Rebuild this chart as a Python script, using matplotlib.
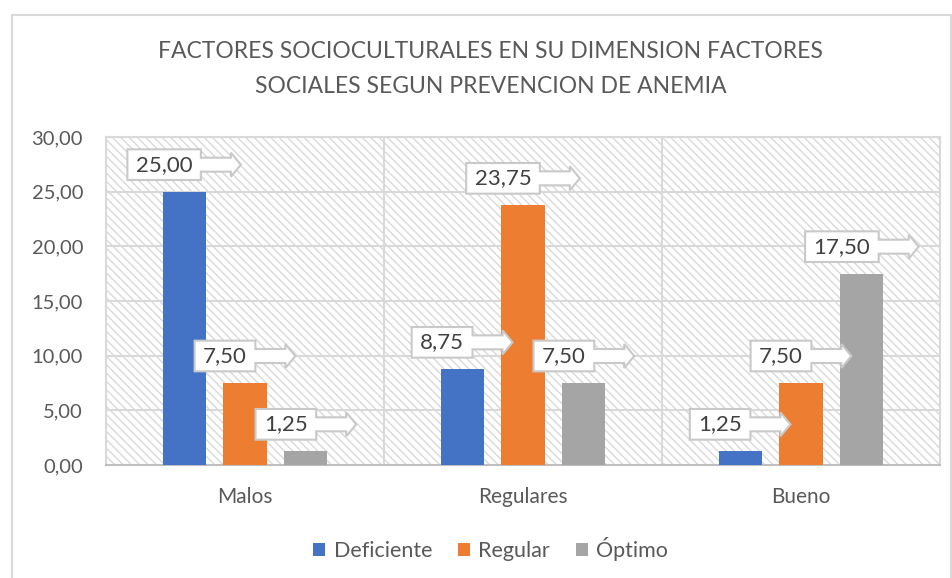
import matplotlib
matplotlib.use("Agg")
import matplotlib.pyplot as plt
import numpy as np
from matplotlib.path import Path
from matplotlib.patches import Patch, Rectangle

categories = ["Malos", "Regulares", "Bueno"]
series_names = ["Deficiente", "Regular", "Óptimo"]
deficiente = [25.00, 8.75, 1.25]
regular = [7.50, 23.75, 7.50]
optimo = [1.25, 7.50, 17.50]
yticks = [0, 5, 10, 15, 20, 25, 30]
colors = ["#4472C4", "#ED7D31", "#A5A5A5"]
title = "FACTORES SOCIOCULTURALES EN SU DIMENSION FACTORES\nSOCIALES SEGUN PREVENCION DE ANEMIA"

plt.rcParams['font.family'] = ['Lato', 'DejaVu Sans']
plt.rcParams['hatch.color'] = '#d9d9d9'
plt.rcParams['hatch.linewidth'] = 1.0

fig = plt.figure(figsize=(9.53, 5.78), dpi=100)
fig.patch.set_facecolor('white')
ax = fig.add_axes([106/953, 1-465/578, 834/953, 328/578])

ax.patch.set_facecolor('white')
ax.patch.set_hatch('\\\\\\\\')
ax.patch.set_edgecolor('#d9d9d9')

def fmt(v):
    return f"{v:.2f}".replace('.', ',')

def callout(x0, y0, width, height, mutation_size):
    ms = mutation_size
    px, py = 0.38 * ms, 0.24 * ms
    l, r = x0 - px, x0 + width + px
    b, t = y0 - py, y0 + height + py
    cy = (b + t) / 2
    sh, hh = 0.315 * ms, 0.54 * ms
    sl, hl = 1.35 * ms, 0.45 * ms
    verts = [(l, b), (r, b), (r, cy - sh), (r + sl, cy - sh), (r + sl, cy - hh),
             (r + sl + hl, cy), (r + sl, cy + hh), (r + sl, cy + sh), (r, cy + sh),
             (r, t), (l, t), (l, b)]
    codes = [Path.MOVETO] + [Path.LINETO] * 10 + [Path.CLOSEPOLY]
    return Path(verts, codes)

x = np.arange(len(categories))
offset = 0.219
width = 0.155
all_series = [deficiente, regular, optimo]
for i, (vals, col) in enumerate(zip(all_series, colors)):
    pos = x + (i - 1) * offset
    ax.bar(pos, vals, width=width, color=col, zorder=3)
    for xp, v in zip(pos, vals):
        ax.annotate(fmt(v), xy=(xp, v), xytext=(-20 * 0.72, 27 * 0.72),
                    textcoords='offset points', ha='center', va='center',
                    fontsize=16, color='#404040', zorder=5, annotation_clip=False,
                    bbox=dict(boxstyle=callout, fc='white', ec='#c9c9c9', lw=1.5))

ax.set_xlim(-0.5, 2.5)
ax.set_ylim(0, 30)
ax.set_yticks(yticks)
ax.set_yticklabels([fmt(v) for v in yticks])
ax.set_xticks(x)
ax.set_xticklabels(categories)
ax.tick_params(axis='both', length=0, labelsize=15, labelcolor='#595959')
ax.tick_params(axis='y', labelsize=14.5, pad=16.5)
ax.tick_params(axis='x', pad=16)

for yv in yticks[1:]:
    ax.axhline(yv, color='#d9d9d9', lw=1.5, zorder=1)
for xv in [0.5, 1.5]:
    ax.axvline(xv, color='#d9d9d9', lw=1.5, zorder=1)

for s in ['top', 'right', 'left']:
    ax.spines[s].set_color('#d9d9d9')
    ax.spines[s].set_linewidth(1.5)
ax.spines['bottom'].set_color('#bfbfbf')
ax.spines['bottom'].set_linewidth(1.5)

fig.text(0.515, 1 - 69/578, title, ha='center', va='center', fontsize=16.5,
         color='#595959', linespacing=1.85)

handles = [Patch(facecolor=c, edgecolor='none') for c in colors]
fig.legend(handles, series_names, loc='center', bbox_to_anchor=(0.515, 1 - 549/578),
           ncol=3, frameon=False, fontsize=15.5, handlelength=0.55, handleheight=0.55,
           handletextpad=0.4, columnspacing=1.2, labelcolor='#595959')

fig.add_artist(Rectangle((12/953, -0.01), 939/953, (578 - 15)/578 + 0.01,
                         transform=fig.transFigure, fill=False, ec='#d9d9d9', lw=1.5))

fig.savefig('out.png', dpi=100, facecolor='white')
